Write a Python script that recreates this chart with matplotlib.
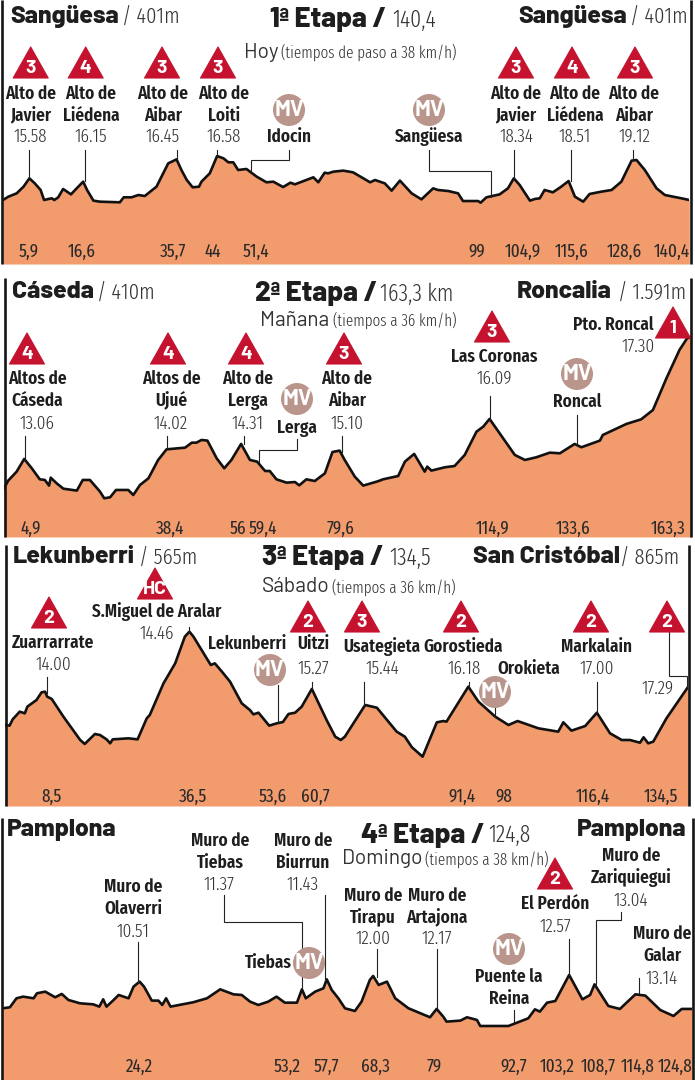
#!/usr/bin/env python
# -*- coding: utf-8 -*-
import matplotlib
matplotlib.use('Agg')
import matplotlib.pyplot as plt
from matplotlib.patches import Polygon, Circle

NARROW = ['Fira Sans Extra Condensed', 'Barlow Condensed', 'Roboto', 'DejaVu Sans']
HEAVY = ['Barlow', 'Roboto', 'DejaVu Sans']

# perfiles: km y altitud (m)
km1 = [0, 1.1, 2.8, 4.2, 5.4, 6.5, 7.7, 8.4, 9.3, 10.0, 10.5, 11.3, 12.3, 13.9, 15.2, 16.4, 17.2, 18.5, 19.8,
       23.9, 24.7, 26.3, 27.7, 29.0, 31.4, 33.8, 34.7, 35.5, 36.5, 37.6, 38.8, 40.1, 40.6, 42.3, 43.8, 45.1,
       46.1, 47.1, 48.1, 49.8, 51.9, 53.9, 55.3, 57.3, 58.8, 59.7, 63.5, 64.5, 65.8, 66.5, 67.6, 69.6, 71.6,
       75.1, 76.1, 78.1, 79.5, 81.2, 83.6, 85.6, 88.0, 89.0, 91.1, 93.1, 94.1, 97.2, 97.7, 98.9, 101.6, 103.3,
       104.5, 105.7, 107.8, 108.8, 109.8, 110.8, 112.5, 114.2, 115.7, 117.0, 118.7, 120.0, 122.4, 124.5, 126.5,
       128.6, 129.6, 131.3, 133.7, 135.4, 138.8, 140.4]
alt1 = [401, 427, 453, 505, 570, 531, 479, 401, 409, 414, 401, 422, 487, 445, 497, 544, 479, 396, 388,
        383, 422, 422, 440, 432, 505, 687, 703, 718, 635, 557, 500, 505, 544, 609, 744, 726,
        695, 695, 635, 643, 583, 539, 544, 502, 536, 523, 578, 539, 614, 609, 622, 630, 617,
        539, 557, 531, 474, 552, 453, 406, 492, 479, 471, 453, 393, 393, 380, 422, 445, 492,
        570, 518, 396, 409, 414, 479, 461, 505, 549, 427, 388, 448, 466, 479, 544,
        708, 713, 635, 492, 440, 414, 401]

km2 = [0, 1.0, 3.0, 4.8, 6.6, 8.5, 9.7, 10.7, 11.1, 12.5, 14.1, 17.3, 18.7, 20.4, 22.8, 23.8, 25.2, 26.6, 29.5,
       30.7, 32.3, 34.3, 36.6, 38.6, 43.0, 44.6, 45.7, 46.9, 48.3, 50.5, 52.3, 54.0, 56.3, 58.4, 60.1, 62.0,
       63.1, 64.7, 67.1, 69.1, 70.1, 71.8, 73.8, 76.2, 78.0, 79.7, 80.9, 83.3, 85.3, 88.8, 90.0, 93.6, 95.2,
       97.4, 99.9, 100.5, 101.5, 104.7, 107.0, 109.4, 112.2, 113.8, 115.3, 121.3, 123.7, 126.4, 129.6, 132.0,
       135.5, 137.1, 141.5, 142.2, 147.8, 151.3, 154.1, 157.3, 160.4, 162.2, 163.3]
alt2 = [410, 470, 540, 639, 566, 480, 475, 431, 493, 449, 407, 392, 475, 475, 384, 332, 340, 397, 397,
        358, 436, 488, 631, 714, 727, 766, 766, 787, 782, 644, 566, 631, 756, 631, 618, 545,
        545, 480, 454, 459, 433, 480, 467, 527, 693, 704, 631, 501, 431, 465, 480, 506, 618,
        678, 540, 579, 548, 574, 584, 670, 852, 891, 951, 670, 631, 652, 688, 683,
        756, 730, 782, 826, 912, 948, 1021, 1268, 1489, 1580, 1591]

km3 = [0, 0.9, 1.5, 2.9, 3.9, 4.4, 6.2, 7.2, 7.9, 8.3, 9.2, 11.5, 14.8, 15.7, 17.7, 18.7, 20.0, 20.7, 21.2, 24.3,
       26.1, 27.9, 28.5, 31.2, 33.5, 35.4, 36.3, 37.1, 40.5, 41.3, 42.7, 44.3, 46.6, 48.2, 48.9, 49.9, 52.0,
       53.5, 54.7, 55.8, 57.1, 58.4, 60.4, 63.3, 65.0, 66.1, 66.9, 70.9, 73.2, 77.1, 78.7, 80.1, 82.2, 85.0,
       86.3, 86.9, 91.2, 93.2, 96.5, 99.1, 100.9, 105.0, 108.9, 109.9, 111.5, 114.2, 116.5, 119.1, 121.4,
       123.0, 125.0, 125.7, 126.6, 127.6, 130.2, 134.5]
alt3 = [565, 560, 609, 669, 656, 708, 760, 820, 825, 786, 768, 630, 448, 417, 495, 487, 453, 422, 453, 461,
        453, 617, 643, 890, 1046, 1254, 1293, 1254, 1033, 1046, 981, 903, 734, 682, 648, 661, 560,
        578, 588, 651, 661, 708, 846, 604, 474, 448, 474, 721, 700, 513, 474, 391, 318, 586,
        596, 591, 864, 747, 630, 565, 596, 539, 513, 586, 521, 557, 661, 500, 448,
        448, 427, 469, 422, 435, 617, 865]

km4 = [0, 1.3, 2.5, 3.7, 5.6, 6.2, 7.7, 9.5, 10.7, 11.9, 14.0, 16.4, 17.5, 18.2, 18.8, 20.1, 21.0, 22.8, 23.7,
       24.8, 25.6, 27.0, 28.2, 28.9, 29.6, 30.4, 34.5, 37.0, 39.4, 41.8, 43.3, 44.8, 46.3, 48.1, 49.6, 51.1,
       53.3, 54.2, 54.9, 56.6, 58.1, 58.7, 59.6, 60.8, 62.0, 63.8, 65.0, 66.5, 67.1, 68.1, 69.6, 71.1, 73.5,
       77.4, 78.6, 79.8, 80.4, 82.9, 84.1, 85.9, 86.5, 91.6, 95.2, 96.4, 97.3, 98.6, 100.1, 102.6, 105.0,
       106.4, 107.2, 109.7, 111.8, 114.6, 116.4, 119.1, 121.5, 123.0, 124.8]
alt4 = [450, 458, 528, 541, 528, 567, 580, 536, 562, 515, 489, 481, 463, 520, 463, 515, 554, 528, 619,
        658, 619, 510, 510, 476, 528, 463, 497, 528, 598, 559, 554, 502, 476, 502, 541, 494,
        494, 598, 528, 580, 606, 676, 593, 528, 450, 429, 502, 671, 702, 632, 658, 528, 450,
        380, 445, 385, 346, 354, 380, 359, 312, 312, 372, 442, 424, 494, 507, 710, 520,
        554, 637, 468, 445, 559, 549, 437, 390, 445, 445]

# textos de cada etapa
titles = ['1ª Etapa /', '2ª Etapa /', '3ª Etapa /', '4ª Etapa /']
distances = ['140,4', '163,3 km', '134,5', '124,8']
days = ['Hoy', 'Mañana', 'Sábado', 'Domingo']
speeds = ['(tiempos de paso a 38 km/h)', '(tiempos a 36 km/h)', '(tiempos a 36 km/h)', '(tiempos a 38 km/h)']
starts = ['Sangüesa', 'Cáseda', 'Lekunberri', 'Pamplona']
start_alt = ['/ 401m', '/ 410m', '/ 565m', '']
ends = ['Sangüesa', 'Roncalia', 'San Cristóbal', 'Pamplona']
end_alt = ['/ 401m', '/ 1.591m', '/ 865m', '']

km_labels = [['5,9', '16,6', '35,7', '44', '51,4', '99', '104,9', '115,6', '128,6', '140,4'],
             ['4,9', '38,4', '56', '59,4', '79,6', '114,9', '133,6', '163,3'],
             ['8,5', '36,5', '53,6', '60,7', '91,4', '98', '116,4', '134,5'],
             ['24,2', '53,2', '57,7', '68,3', '79', '92,7', '103,2', '108,7', '114,8', '124,8']]

climb_names = ['Alto de\nJavier', 'Alto de\nLiédena', 'Alto de\nAibar', 'Alto de\nLoiti',
               'Alto de\nJavier', 'Alto de\nLiédena', 'Alto de\nAibar',
               'Altos de\nCáseda', 'Altos de\nUjué', 'Alto de\nLerga', 'Alto de\nAibar', 'Las Coronas', 'Pto. Roncal',
               'Zuarrarrate', 'S.Miguel de Aralar', 'Uitzi', 'Usategieta', 'Gorostieda', 'Markalain',
               'Muro de\nOlaverri', 'Muro de\nTiebas', 'Muro de\nBiurrun', 'Muro de\nTirapu', 'Muro de\nArtajona',
               'El Perdón', 'Muro de\nZariquiegui', 'Muro de\nGalar']
climb_times = ['15.58', '16.15', '16.45', '16.58', '18.34', '18.51', '19.12',
               '13.06', '14.02', '14.31', '15.10', '16.09', '17.30',
               '14.00', '14.46', '15.27', '15.44', '16.18', '17.00',
               '10.51', '11.37', '11.43', '12.00', '12.17', '12.57', '13.04', '13.14']
categories = ['3', '4', '3', '3', '3', '4', '3', '4', '4', '4', '3', '3', '1', '2', 'HC', '2', '3', '2', '2', '2', '2']
mv_names = ['Idocin', 'Sangüesa', 'Lerga', 'Roncal', 'Lekunberri', 'Orokieta', 'Tiebas', 'Puente la\nReina']
extra_time = '17.29'

# colocacion en pixeles de la imagen
W, H = 695, 1080
panel_box = [(3, 689.3, 0, 264), (4, 691.7, 278, 537), (5, 688.3, 545, 806), (2.7, 691.7, 818, 1080)]
panel_ref = [(200, 401), (488.3, 410), (725, 565), (1008.3, 450)]   # fila de pixel y su altitud
m_per_px = 7.8
rules = [(1.5, 690.5, 0, 264), (4.5, 691, 278, 537), (5.5, 689, 545, 806), (1.5, 693, 818, 1080)]

head_y = [20, 294, 558, 835]
title_x = [270, 255, 262, 361]
dist_x = [392, 380, 389, 488]
sub_y = [52, 320, 587, 859]
day_x = [244, 260, 262, 342]
speed_x = [281, 333, 332, 425]
place_y = [16, 292, 557, 830]
start_x = [10, 12, 13, 7]
start_alt_x = [122, 97, 139, 0]
end_x = [518, 517, 473, 577]
end_alt_x = [630, 618, 620, 0]

km_label_y = [252, 529, 797, 1067]
km_label_x = [[29, 82, 173, 213, 256, 477, 523, 572, 624, 672],
              [31, 170, 238, 263, 341, 493, 573, 668],
              [52, 193, 273, 315, 462, 504, 593, 661],
              [139, 287, 326, 375, 434, 514, 557, 598, 638, 675]]

climb_xy = [(31, 94), (91, 94), (163, 94), (224, 94), (516, 94), (575, 94), (634, 94),
            (37, 379), (171, 379), (248, 379), (347, 379), (494, 357), (613, 325),
            (53, 643), (157, 612), (313, 644), (382, 647), (463, 647), (597, 647),
            (133, 887), (220, 841), (303, 841), (373, 896), (437, 896), (555, 904), (631, 856), (662, 934)]
time_xy = [(30, 137), (91, 137), (163, 137), (224, 137), (516, 137), (575, 137), (634, 137),
           (37, 424), (171, 424), (248, 424), (347, 424), (494, 379), (638, 347),
           (53, 665), (157, 634), (313, 669), (382, 669), (464, 669), (597, 669),
           (133, 932), (219, 885), (303, 885), (373, 939), (437, 939), (555, 927), (631, 901), (662, 979)]
tri_xy = [(30.7, 47), (85.7, 47), (162, 47), (218, 47), (516, 47), (572, 47), (635, 47),
          (27, 333), (168, 333), (246, 333), (344, 333), (492, 311), (673, 307),
          (49, 597), (155, 568), (308, 601), (362, 601), (461, 601), (591, 601), (667, 601), (555, 858)]
mv_xy = [(289, 110), (429, 110), (297, 399), (577, 374), (270, 670), (495, 692), (309, 963), (509, 949)]
mv_label_xy = [(289, 137), (429, 137), (297, 428), (577, 402), (247, 644), (529, 669), (268, 963), (509, 977)]
extra_time_xy = (658, 689)

leaders = [[(29, 150), (29, 178)], [(85, 150), (85, 181)], [(177, 150), (177, 159)], [(217, 150), (217, 156)],
           [(514, 150), (514, 178)], [(571, 150), (571, 181)], [(633, 150), (633, 160)],
           [(289, 150), (289, 160), (251, 160), (251, 170)], [(429, 150), (429, 171), (491, 171), (491, 197)],
           [(25, 436), (25, 459)], [(167, 436), (167, 448)], [(244, 436), (244, 444)],
           [(297, 439), (297, 450), (259, 450), (259, 462)], [(342, 436), (342, 452)],
           [(490, 396), (490, 419)], [(577, 415), (577, 445)],
           [(47, 677), (47, 693)], [(189, 627), (189, 632)], [(278, 685), (278, 723)], [(312, 682), (312, 689)],
           [(364, 682), (364, 705)], [(469, 682), (469, 687)], [(495, 708), (495, 717)], [(597, 682), (597, 713)],
           [(669, 632), (669, 676), (687, 676), (687, 687)],
           [(138, 942), (138, 982)], [(224, 895), (224, 922), (302, 922), (302, 989)], [(325, 895), (325, 980)],
           [(377, 949), (377, 977)], [(437, 949), (437, 1008)], [(569, 939), (569, 975)],
           [(621, 912), (621, 920), (596, 920), (596, 984)], [(639, 978), (639, 993)], [(514, 1010), (514, 1022)]]

ORANGE = '#F29B6D'
RED = '#C4122F'
MV = '#B9958B'
INK = '#1E1E1E'

fig = plt.figure(figsize=(W / 100, H / 100), dpi=100)

# perfiles
kms = [km1, km2, km3, km4]
alts = [alt1, alt2, alt3, alt4]
for i in range(4):
    x0, x1, top, bottom = panel_box[i]
    row, ref = panel_ref[i]
    ax = fig.add_axes([x0 / W, 1 - bottom / H, (x1 - x0) / W, (bottom - top) / H])
    ymin = ref - (bottom - row) * m_per_px
    ymax = ref + (row - top) * m_per_px
    ax.fill_between(kms[i], alts[i], ymin, color=ORANGE, lw=0)
    ax.plot(kms[i], alts[i], color='#111111', lw=1.9, solid_joinstyle='round')
    ax.set_xlim(0, kms[i][-1])
    ax.set_ylim(ymin, ymax)
    ax.axis('off')

# capa de rotulos en pixeles
top_ax = fig.add_axes([0, 0, 1, 1], zorder=5)
top_ax.set_xlim(0, W)
top_ax.set_ylim(H, 0)
top_ax.axis('off')
top_ax.patch.set_alpha(0)


def label(x, y, s, size=13, weight='normal', family=NARROW, ha='center', color=INK):
    top_ax.text(x, y, s, fontsize=size, fontweight=weight, family=family, ha=ha, va='center', color=color)


for xa, xb, top, bottom in rules:
    top_ax.plot([xa, xa], [top, bottom], color='#151515', lw=1.9, solid_capstyle='butt')
    top_ax.plot([xb, xb], [top, bottom], color='#151515', lw=1.9, solid_capstyle='butt')

for pts in leaders:
    top_ax.plot([p[0] for p in pts], [p[1] for p in pts], color='#222222', lw=0.8, solid_joinstyle='miter')

for i in range(4):
    label(title_x[i], head_y[i], titles[i], size=20, weight=800, family=HEAVY, ha='left')
    label(dist_x[i], head_y[i], distances[i], size=17, weight=300, ha='left', color='#333333')
    label(day_x[i], sub_y[i], days[i], size=15, family=HEAVY, ha='left', color='#333333')
    label(speed_x[i], sub_y[i], speeds[i], size=11.8, weight=300, ha='left', color='#333333')
    label(start_x[i], place_y[i], starts[i], size=17.8, weight=800, family=HEAVY, ha='left')
    label(end_x[i], place_y[i], ends[i], size=17.8, weight=800, family=HEAVY, ha='left')
    if start_alt[i]:
        label(start_alt_x[i], place_y[i], start_alt[i], size=16, weight=300, ha='left', color='#333333')
        label(end_alt_x[i], place_y[i], end_alt[i], size=16, weight=300, ha='left', color='#333333')
    for xp, s in zip(km_label_x[i], km_labels[i]):
        label(xp, km_label_y[i], s, size=13.5, color='#2a2a2a')

for (x, y), s in zip(climb_xy, climb_names):
    for j, line in enumerate(s.split('\n')):
        label(x, y + j * 22, line, size=13.5, weight=600)
for (x, y), s in zip(time_xy, climb_times):
    label(x, y, s, size=13.5, weight=300, color='#333333')
label(extra_time_xy[0], extra_time_xy[1], extra_time, size=13.5, weight=300, color='#333333')

for (x, y), c in zip(tri_xy, categories):
    top_ax.add_patch(Polygon([(x, y), (x + 17.5, y + 31), (x - 17.5, y + 31)], closed=True, fc=RED, ec=RED,
                             lw=0.8, joinstyle='round', zorder=3))
    top_ax.text(x, y + 21.5, c, fontsize=14, fontweight=700, family=HEAVY, ha='center', va='center',
                color='white', zorder=4)

for (x, y), (lx, ly), s in zip(mv_xy, mv_label_xy, mv_names):
    top_ax.add_patch(Circle((x, y), 16, fc=MV, ec='none', zorder=3))
    top_ax.text(x, y, 'MV', fontsize=16, fontweight=700, family=HEAVY, ha='center', va='center',
                color='white', zorder=4)
    for j, line in enumerate(s.split('\n')):
        label(lx, ly + j * 22, line, size=13.5, weight=600)

fig.savefig('out.png', dpi=100)
